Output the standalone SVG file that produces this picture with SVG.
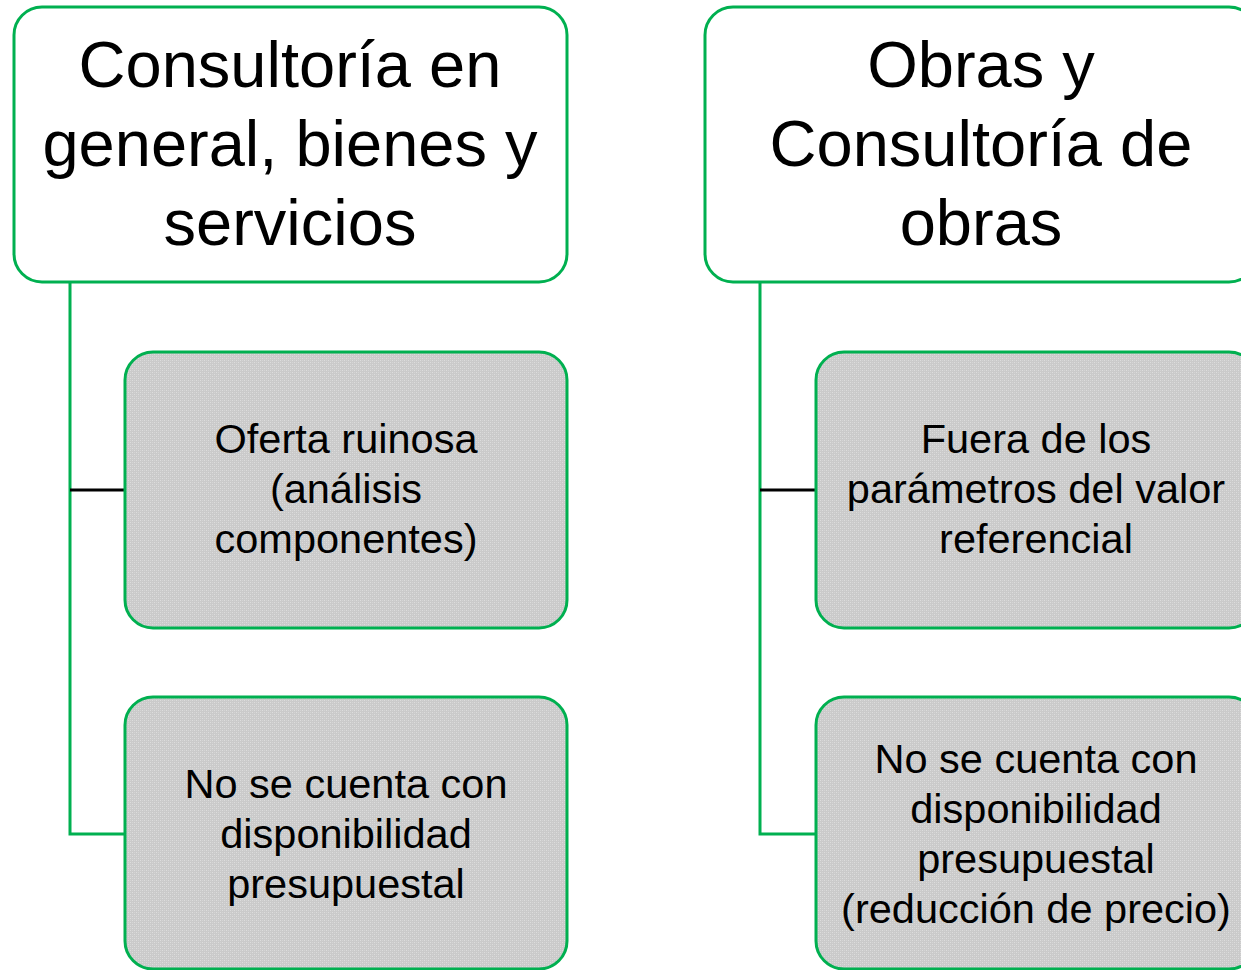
<svg xmlns="http://www.w3.org/2000/svg" width="1241" height="970" viewBox="0 0 1241 970">
<defs>
<pattern id="dots" width="4" height="4" patternUnits="userSpaceOnUse">
<rect width="4" height="4" fill="#cacaca"/>
<rect x="0" y="0" width="1" height="1" fill="#dddddd"/>
<rect x="2" y="2" width="1" height="1" fill="#dddddd"/>
<rect x="2" y="0" width="1" height="1" fill="#d4d4d4"/>
<rect x="0" y="2" width="1" height="1" fill="#d4d4d4"/>
</pattern>
</defs>
<style>
.top{fill:#ffffff;stroke:#00b050;stroke-width:3}
.child{fill:url(#dots);stroke:#00b050;stroke-width:3}
.tt{font-family:"Liberation Sans",Arial,sans-serif;font-size:65px;fill:#000;text-anchor:middle}
.ct{font-family:"Liberation Sans",Arial,sans-serif;font-size:41.5px;fill:#000;text-anchor:middle}
.g{stroke:#00b050;stroke-width:3;fill:none}
.k{stroke:#000;stroke-width:3;fill:none}
</style>
<rect width="1241" height="970" fill="#ffffff"/>
<g id="connectors">
<polyline class="g" points="70,282 70,834 125,834"/>
<line class="k" x1="70" y1="490" x2="125" y2="490"/>
<polyline class="g" points="760,282 760,834 816,834"/>
<line class="k" x1="760" y1="490" x2="816" y2="490"/>
</g>
<g id="n1">
<rect class="top" x="14" y="7" width="553" height="275" rx="28"/>
<text class="tt" x="290" y="87">Consultoría en</text>
<text class="tt" x="290" y="166">general, bienes y</text>
<text class="tt" x="290" y="245">servicios</text>
</g>
<g id="n2">
<rect class="top" x="705" y="7" width="552" height="275" rx="28"/>
<text class="tt" x="981" y="87">Obras y</text>
<text class="tt" x="981" y="166">Consultoría de</text>
<text class="tt" x="981" y="245">obras</text>
</g>
<g id="n3">
<rect class="child" x="125" y="352" width="442" height="276" rx="28"/>
<text class="ct" x="346" y="453">Oferta ruinosa</text>
<text class="ct" x="346" y="503">(análisis</text>
<text class="ct" x="346" y="553">componentes)</text>
</g>
<g id="n4">
<rect class="child" x="125" y="697" width="442" height="272" rx="28"/>
<text class="ct" x="346" y="798">No se cuenta con</text>
<text class="ct" x="346" y="848">disponibilidad</text>
<text class="ct" x="346" y="898">presupuestal</text>
</g>
<g id="n5">
<rect class="child" x="816" y="352" width="441" height="276" rx="28"/>
<text class="ct" x="1036" y="453">Fuera de los</text>
<text class="ct" x="1036" y="503">parámetros del valor</text>
<text class="ct" x="1036" y="553">referencial</text>
</g>
<g id="n6">
<rect class="child" x="816" y="697" width="441" height="272" rx="28"/>
<text class="ct" x="1036" y="773">No se cuenta con</text>
<text class="ct" x="1036" y="823">disponibilidad</text>
<text class="ct" x="1036" y="873">presupuestal</text>
<text class="ct" x="1036" y="923">(reducción de precio)</text>
</g>
</svg>
